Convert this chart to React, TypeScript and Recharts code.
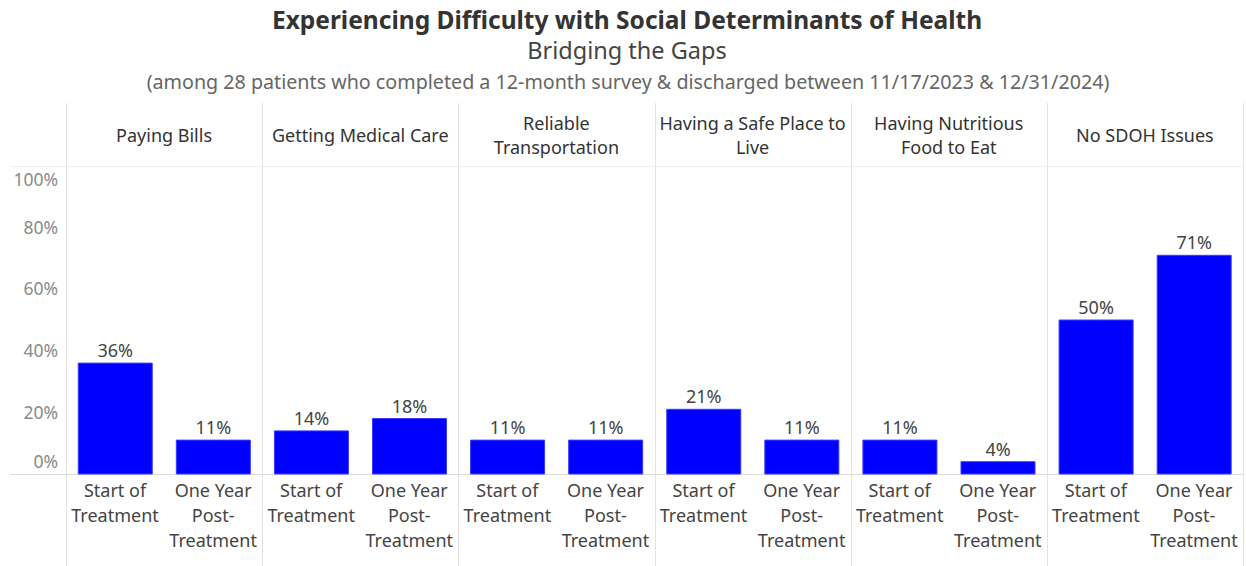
import { BarChart, Bar, XAxis, YAxis, LabelList } from "recharts";

// Survey groups (header row) and the two time points per group
const groups = [
  "Paying Bills",
  "Getting Medical Care",
  "Reliable\nTransportation",
  "Having a Safe Place to\nLive",
  "Having Nutritious\nFood to Eat",
  "No SDOH Issues",
];
const stages = ["Start of\nTreatment", "One Year\nPost-\nTreatment"];
const startValues = [36, 14, 11, 21, 11, 50];
const oneYearValues = [11, 18, 11, 11, 4, 71];
const yTicks = [0, 20, 40, 60, 80, 100];

const data = groups.flatMap((group, i) => [
  { group, stage: stages[0], value: startValues[i] },
  { group, stage: stages[1], value: oneYearValues[i] },
]);

const FONT = "'Noto Sans', sans-serif";
const W = 1246;
const CHART_TOP = 103;
const CHART_H = 463;
const margin = { top: 0, right: 3, bottom: 0, left: 10 };
const Y_AXIS_W = 56;
const HEADER_H = 63;
const FOOTER_H = 92;

const plotLeft = margin.left + Y_AXIS_W;
const plotWidth = W - plotLeft - margin.right;
const plotTop = CHART_TOP + HEADER_H;
const plotBottom = CHART_TOP + CHART_H - FOOTER_H;

function GroupTick(props: any) {
  const { x, y, payload } = props;
  const lines = String(payload.value).split("\n");
  const cy = y - 30;
  return (
    <text x={x} textAnchor="middle" fill="#333" fontSize={18} fontFamily={FONT}>
      {lines.map((line, i) => (
        <tspan key={i} x={x} y={cy + (i - (lines.length - 1) / 2) * 24} dy="0.35em">
          {line}
        </tspan>
      ))}
    </text>
  );
}

function StageTick(props: any) {
  const { x, y, payload } = props;
  const lines = String(payload.value).split("\n");
  return (
    <text x={x} textAnchor="middle" fill="#444" fontSize={18} fontFamily={FONT}>
      {lines.map((line, i) => (
        <tspan key={i} x={x} y={y + 17 + i * 25} dy="0.35em">
          {line}
        </tspan>
      ))}
    </text>
  );
}

function PercentTick(props: any) {
  const { x, y, payload } = props;
  const v = payload.value;
  // keep the end labels inside the pane
  const shift = v === yTicks[yTicks.length - 1] ? 14 : v === yTicks[0] ? -12 : 0;
  return (
    <text x={x} y={y + shift} dy="0.35em" textAnchor="end" fill="#8a8a8a" fontSize={17.5} fontFamily={FONT}>
      {`${v}%`}
    </text>
  );
}

function Line({ left, top, width, height, color }: any) {
  return <div style={{ position: "absolute", left, top, width, height, background: color }} />;
}

export default function App() {
  const dividers = groups.map((_, i) => plotLeft + (i * plotWidth) / groups.length);
  dividers.push(plotLeft + plotWidth);

  return (
    <div style={{ position: "relative", width: W, height: 566, background: "#fff", fontFamily: FONT }}>
      <style>{`body{margin:0}`}</style>
      <div style={{ position: "absolute", top: 3, left: 0, width: 1254, textAlign: "center", fontSize: 24.5, lineHeight: "33px", fontWeight: 700, color: "#333" }}>
        Experiencing Difficulty with Social Determinants of Health
      </div>
      <div style={{ position: "absolute", top: 34, left: 0, width: 1254, textAlign: "center", fontSize: 23.5, lineHeight: "32px", color: "#444" }}>
        Bridging the Gaps
      </div>
      <div style={{ position: "absolute", top: 68, left: 0, width: 1256, textAlign: "center", fontSize: 19.7, lineHeight: "27px", color: "#666" }}>
        (among 28 patients who completed a 12-month survey &amp; discharged between 11/17/2023 &amp; 12/31/2024)
      </div>

      <Line left={margin.left} top={plotTop} width={W - margin.left - margin.right} height={1} color="#efefef" />
      <Line left={margin.left} top={plotBottom} width={W - margin.left - margin.right} height={1} color="#dcdcdc" />
      {dividers.map((x, i) => (
        <Line key={i} left={Math.round(x)} top={CHART_TOP} width={1} height={CHART_H} color="#e4e4e4" />
      ))}

      <div style={{ position: "absolute", left: 0, top: CHART_TOP }}>
        <BarChart width={W} height={CHART_H} data={data} margin={margin} barCategoryGap="12.5%">
          <XAxis
            xAxisId="group"
            dataKey="group"
            orientation="top"
            allowDuplicatedCategory={false}
            height={HEADER_H}
            axisLine={false}
            tickLine={false}
            tickSize={0}
            tickMargin={0}
            interval={0}
            tick={<GroupTick />}
          />
          <XAxis
            dataKey="stage"
            height={FOOTER_H}
            axisLine={false}
            tickLine={false}
            tickSize={0}
            tickMargin={0}
            interval={0}
            tick={<StageTick />}
          />
          <YAxis
            width={Y_AXIS_W}
            domain={[0, 100]}
            ticks={yTicks}
            axisLine={false}
            tickLine={false}
            tickSize={0}
            tickMargin={8}
            interval={0}
            tick={<PercentTick />}
          />
          <Bar dataKey="value" fill="#0000ff" stroke="#3a3aff" strokeWidth={1} isAnimationActive={false}>
            <LabelList
              dataKey="value"
              position="top"
              offset={6}
              formatter={(v: any) => `${v}%`}
              fill="#444"
              fontSize={18}
              fontFamily={FONT}
            />
          </Bar>
        </BarChart>
      </div>
    </div>
  );
}
